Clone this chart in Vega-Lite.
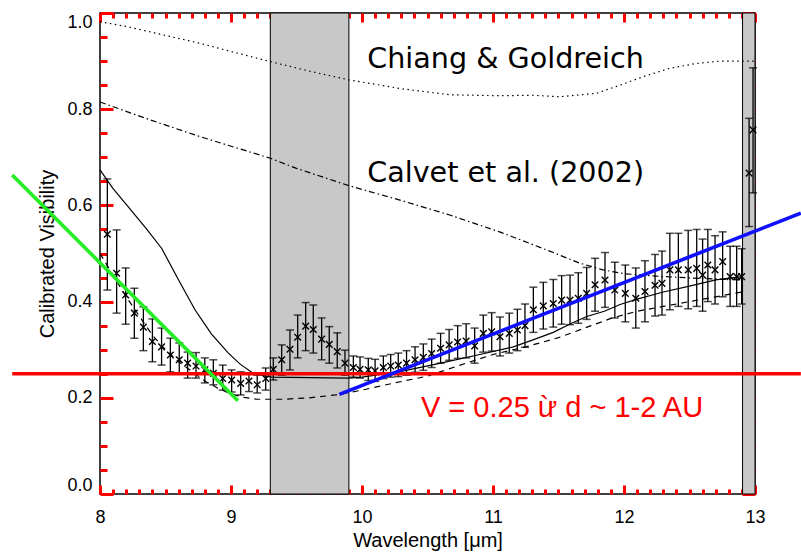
{
  "$schema": "https://vega.github.io/schema/vega-lite/v6.json",
  "width": 655,
  "height": 481,
  "autosize": {"type": "none"},
  "padding": {"left": 100, "top": 13, "right": 46, "bottom": 58},
  "background": "white",
  "config": {
    "view": {"stroke": "black", "strokeWidth": 1.5},
    "axis": {
      "grid": false,
      "domain": false,
      "tickOpacity": 1,
      "zindex": 1,
      "tickColor": "red",
      "tickWidth": 3,
      "labelColor": "black",
      "titleColor": "black",
      "labelFont": "Liberation Sans",
      "titleFont": "Liberation Sans",
      "labelFontSize": 18,
      "titleFontSize": 20,
      "titleFontWeight": "normal"
    }
  },
  "resolve": {"axis": {"x": "independent", "y": "independent"}},
  "datasets": {
    "bands": [
      {"x1": 9.3, "x2": 9.9},
      {"x1": 12.905, "x2": 13.0}
    ],
    "models": [
      {"model": "cg", "w": 8.0, "v": 0.982}, {"model": "cg", "w": 8.2, "v": 0.972}, {"model": "cg", "w": 8.38, "v": 0.961}, {"model": "cg", "w": 8.57, "v": 0.949}, {"model": "cg", "w": 8.763, "v": 0.937}, {"model": "cg", "w": 9.0, "v": 0.92}, {"model": "cg", "w": 9.3, "v": 0.899}, {"model": "cg", "w": 9.6, "v": 0.879}, {"model": "cg", "w": 9.9, "v": 0.861}, {"model": "cg", "w": 10.29, "v": 0.843}, {"model": "cg", "w": 10.67, "v": 0.83}, {"model": "cg", "w": 11.05, "v": 0.828}, {"model": "cg", "w": 11.3, "v": 0.829}, {"model": "cg", "w": 11.51, "v": 0.826}, {"model": "cg", "w": 11.79, "v": 0.833}, {"model": "cg", "w": 11.97, "v": 0.85}, {"model": "cg", "w": 12.15, "v": 0.868}, {"model": "cg", "w": 12.35, "v": 0.885}, {"model": "cg", "w": 12.55, "v": 0.895}, {"model": "cg", "w": 12.733, "v": 0.9}, {"model": "cg", "w": 13.0, "v": 0.9},
      {"model": "calvet", "w": 8.0, "v": 0.815}, {"model": "calvet", "w": 8.38, "v": 0.778}, {"model": "calvet", "w": 8.763, "v": 0.743}, {"model": "calvet", "w": 9.3, "v": 0.698}, {"model": "calvet", "w": 9.5, "v": 0.677}, {"model": "calvet", "w": 9.9, "v": 0.641}, {"model": "calvet", "w": 10.29, "v": 0.611}, {"model": "calvet", "w": 10.67, "v": 0.58}, {"model": "calvet", "w": 11.05, "v": 0.545}, {"model": "calvet", "w": 11.28, "v": 0.521}, {"model": "calvet", "w": 11.46, "v": 0.502}, {"model": "calvet", "w": 11.66, "v": 0.48}, {"model": "calvet", "w": 11.84, "v": 0.466}, {"model": "calvet", "w": 12.0, "v": 0.458}, {"model": "calvet", "w": 12.3, "v": 0.452}, {"model": "calvet", "w": 12.6, "v": 0.448}, {"model": "calvet", "w": 12.9, "v": 0.445},
      {"model": "solid", "w": 8.0, "v": 0.674}, {"model": "solid", "w": 8.1, "v": 0.635}, {"model": "solid", "w": 8.216, "v": 0.597}, {"model": "solid", "w": 8.35, "v": 0.553}, {"model": "solid", "w": 8.47, "v": 0.511}, {"model": "solid", "w": 8.6, "v": 0.445}, {"model": "solid", "w": 8.725, "v": 0.383}, {"model": "solid", "w": 8.85, "v": 0.333}, {"model": "solid", "w": 8.98, "v": 0.293}, {"model": "solid", "w": 9.07, "v": 0.27}, {"model": "solid", "w": 9.158, "v": 0.253}, {"model": "solid", "w": 9.25, "v": 0.246}, {"model": "solid", "w": 9.31, "v": 0.243}, {"model": "solid", "w": 9.6, "v": 0.242}, {"model": "solid", "w": 9.9, "v": 0.241}, {"model": "solid", "w": 10.0, "v": 0.243}, {"model": "solid", "w": 10.3, "v": 0.255}, {"model": "solid", "w": 10.6, "v": 0.272}, {"model": "solid", "w": 10.9, "v": 0.29}, {"model": "solid", "w": 11.155, "v": 0.306}, {"model": "solid", "w": 11.3, "v": 0.32}, {"model": "solid", "w": 11.46, "v": 0.336}, {"model": "solid", "w": 11.6, "v": 0.355}, {"model": "solid", "w": 11.715, "v": 0.369}, {"model": "solid", "w": 11.85, "v": 0.38}, {"model": "solid", "w": 11.97, "v": 0.394}, {"model": "solid", "w": 12.1, "v": 0.405}, {"model": "solid", "w": 12.3, "v": 0.42}, {"model": "solid", "w": 12.5, "v": 0.432}, {"model": "solid", "w": 12.7, "v": 0.445}, {"model": "solid", "w": 12.9, "v": 0.452},
      {"model": "dashed", "w": 8.0, "v": 0.5}, {"model": "dashed", "w": 8.1, "v": 0.455}, {"model": "dashed", "w": 8.2, "v": 0.41}, {"model": "dashed", "w": 8.3, "v": 0.37}, {"model": "dashed", "w": 8.4, "v": 0.33}, {"model": "dashed", "w": 8.5, "v": 0.3}, {"model": "dashed", "w": 8.6, "v": 0.275}, {"model": "dashed", "w": 8.7, "v": 0.255}, {"model": "dashed", "w": 8.8, "v": 0.235}, {"model": "dashed", "w": 8.9, "v": 0.22}, {"model": "dashed", "w": 9.0, "v": 0.208}, {"model": "dashed", "w": 9.1, "v": 0.201}, {"model": "dashed", "w": 9.2, "v": 0.197}, {"model": "dashed", "w": 9.4, "v": 0.197}, {"model": "dashed", "w": 9.6, "v": 0.2}, {"model": "dashed", "w": 9.8, "v": 0.206}, {"model": "dashed", "w": 10.0, "v": 0.216}, {"model": "dashed", "w": 10.25, "v": 0.231}, {"model": "dashed", "w": 10.5, "v": 0.245}, {"model": "dashed", "w": 10.75, "v": 0.268}, {"model": "dashed", "w": 11.0, "v": 0.29}, {"model": "dashed", "w": 11.25, "v": 0.306}, {"model": "dashed", "w": 11.5, "v": 0.325}, {"model": "dashed", "w": 11.75, "v": 0.35}, {"model": "dashed", "w": 11.9, "v": 0.365}, {"model": "dashed", "w": 12.1, "v": 0.38}, {"model": "dashed", "w": 12.3, "v": 0.39}, {"model": "dashed", "w": 12.5, "v": 0.4}, {"model": "dashed", "w": 12.7, "v": 0.41}, {"model": "dashed", "w": 12.9, "v": 0.42}
    ],
    "points": [
      {"w": 8.056, "v": 0.54, "lo": 0.424, "hi": 0.655},
      {"w": 8.127, "v": 0.459, "lo": 0.376, "hi": 0.549},
      {"w": 8.196, "v": 0.414, "lo": 0.353, "hi": 0.47},
      {"w": 8.262, "v": 0.376, "lo": 0.324, "hi": 0.428},
      {"w": 8.331, "v": 0.347, "lo": 0.298, "hi": 0.389},
      {"w": 8.4, "v": 0.317, "lo": 0.275, "hi": 0.364},
      {"w": 8.47, "v": 0.306, "lo": 0.268, "hi": 0.345},
      {"w": 8.537, "v": 0.289, "lo": 0.254, "hi": 0.324},
      {"w": 8.605, "v": 0.279, "lo": 0.251, "hi": 0.314},
      {"w": 8.669, "v": 0.272, "lo": 0.241, "hi": 0.295},
      {"w": 8.733, "v": 0.266, "lo": 0.241, "hi": 0.294},
      {"w": 8.8, "v": 0.258, "lo": 0.231, "hi": 0.283},
      {"w": 8.865, "v": 0.251, "lo": 0.227, "hi": 0.279},
      {"w": 8.937, "v": 0.24, "lo": 0.216, "hi": 0.268},
      {"w": 9.005, "v": 0.237, "lo": 0.212, "hi": 0.258},
      {"w": 9.074, "v": 0.23, "lo": 0.206, "hi": 0.254},
      {"w": 9.137, "v": 0.235, "lo": 0.213, "hi": 0.252},
      {"w": 9.2, "v": 0.227, "lo": 0.21, "hi": 0.247},
      {"w": 9.265, "v": 0.24, "lo": 0.216, "hi": 0.262},
      {"w": 9.323, "v": 0.259, "lo": 0.237, "hi": 0.283},
      {"w": 9.387, "v": 0.279, "lo": 0.247, "hi": 0.31},
      {"w": 9.45, "v": 0.301, "lo": 0.258, "hi": 0.341},
      {"w": 9.509, "v": 0.326, "lo": 0.283, "hi": 0.372},
      {"w": 9.57, "v": 0.349, "lo": 0.298, "hi": 0.398},
      {"w": 9.628, "v": 0.342, "lo": 0.293, "hi": 0.393},
      {"w": 9.692, "v": 0.322, "lo": 0.279, "hi": 0.366},
      {"w": 9.75, "v": 0.311, "lo": 0.272, "hi": 0.348},
      {"w": 9.811, "v": 0.296, "lo": 0.262, "hi": 0.335},
      {"w": 9.87, "v": 0.272, "lo": 0.247, "hi": 0.299},
      {"w": 9.934, "v": 0.263, "lo": 0.243, "hi": 0.287},
      {"w": 9.985, "v": 0.259, "lo": 0.241, "hi": 0.285},
      {"w": 10.048, "v": 0.258, "lo": 0.236, "hi": 0.282},
      {"w": 10.1, "v": 0.256, "lo": 0.234, "hi": 0.28},
      {"w": 10.163, "v": 0.263, "lo": 0.24, "hi": 0.287},
      {"w": 10.219, "v": 0.266, "lo": 0.243, "hi": 0.29},
      {"w": 10.277, "v": 0.268, "lo": 0.244, "hi": 0.293},
      {"w": 10.34, "v": 0.272, "lo": 0.247, "hi": 0.298},
      {"w": 10.405, "v": 0.279, "lo": 0.253, "hi": 0.306},
      {"w": 10.468, "v": 0.284, "lo": 0.257, "hi": 0.312},
      {"w": 10.532, "v": 0.292, "lo": 0.263, "hi": 0.322},
      {"w": 10.6, "v": 0.303, "lo": 0.272, "hi": 0.334},
      {"w": 10.665, "v": 0.31, "lo": 0.278, "hi": 0.342},
      {"w": 10.73, "v": 0.316, "lo": 0.282, "hi": 0.35},
      {"w": 10.795, "v": 0.318, "lo": 0.283, "hi": 0.354},
      {"w": 10.86, "v": 0.308, "lo": 0.272, "hi": 0.345},
      {"w": 10.926, "v": 0.334, "lo": 0.295, "hi": 0.372},
      {"w": 10.99, "v": 0.337, "lo": 0.297, "hi": 0.377},
      {"w": 11.053, "v": 0.327, "lo": 0.287, "hi": 0.368},
      {"w": 11.124, "v": 0.334, "lo": 0.293, "hi": 0.376},
      {"w": 11.186, "v": 0.341, "lo": 0.298, "hi": 0.384},
      {"w": 11.244, "v": 0.35, "lo": 0.305, "hi": 0.395},
      {"w": 11.308, "v": 0.383, "lo": 0.336, "hi": 0.43},
      {"w": 11.384, "v": 0.391, "lo": 0.343, "hi": 0.44},
      {"w": 11.46, "v": 0.396, "lo": 0.347, "hi": 0.446},
      {"w": 11.524, "v": 0.403, "lo": 0.353, "hi": 0.454},
      {"w": 11.588, "v": 0.403, "lo": 0.352, "hi": 0.455},
      {"w": 11.651, "v": 0.407, "lo": 0.355, "hi": 0.46},
      {"w": 11.715, "v": 0.417, "lo": 0.363, "hi": 0.471},
      {"w": 11.779, "v": 0.435, "lo": 0.38, "hi": 0.49},
      {"w": 11.855, "v": 0.445, "lo": 0.388, "hi": 0.502},
      {"w": 11.93, "v": 0.424, "lo": 0.366, "hi": 0.482},
      {"w": 12.01, "v": 0.417, "lo": 0.358, "hi": 0.476},
      {"w": 12.09, "v": 0.407, "lo": 0.345, "hi": 0.47},
      {"w": 12.16, "v": 0.421, "lo": 0.358, "hi": 0.485},
      {"w": 12.237, "v": 0.434, "lo": 0.37, "hi": 0.498},
      {"w": 12.29, "v": 0.438, "lo": 0.372, "hi": 0.505},
      {"w": 12.35, "v": 0.466, "lo": 0.383, "hi": 0.542},
      {"w": 12.415, "v": 0.466, "lo": 0.39, "hi": 0.542},
      {"w": 12.49, "v": 0.466, "lo": 0.385, "hi": 0.548},
      {"w": 12.555, "v": 0.469, "lo": 0.39, "hi": 0.55},
      {"w": 12.6, "v": 0.455, "lo": 0.38, "hi": 0.53},
      {"w": 12.64, "v": 0.476, "lo": 0.4, "hi": 0.55},
      {"w": 12.695, "v": 0.466, "lo": 0.395, "hi": 0.537},
      {"w": 12.753, "v": 0.483, "lo": 0.41, "hi": 0.545},
      {"w": 12.81, "v": 0.452, "lo": 0.39, "hi": 0.515},
      {"w": 12.86, "v": 0.452, "lo": 0.39, "hi": 0.515},
      {"w": 12.898, "v": 0.452, "lo": 0.395, "hi": 0.51},
      {"w": 12.955, "v": 0.667, "lo": 0.556, "hi": 0.781},
      {"w": 12.985, "v": 0.757, "lo": 0.626, "hi": 0.886}
    ],
    "fits": [
      {"fit": "level", "w": 7.33, "v": 0.25}, {"fit": "level", "w": 13.35, "v": 0.25},
      {"fit": "short", "w": 7.33, "v": 0.663}, {"fit": "short", "w": 9.053, "v": 0.194},
      {"fit": "long", "w": 9.827, "v": 0.207}, {"fit": "long", "w": 13.35, "v": 0.584}
    ],
    "labels": [
      {"kind": "model", "w": 10.04, "v": 0.885, "text": "Chiang & Goldreich"},
      {"kind": "model", "w": 10.04, "v": 0.649, "text": "Calvet et al. (2002)"},
      {"kind": "fit", "w": 10.45, "v": 0.161, "text": "V = 0.25 ừ d ~ 1-2 AU"}
    ]
  },
  "layer": [
    {
      "data": {"name": "bands"},
      "mark": {"type": "rect", "fill": "#c8c8c8", "stroke": "black", "strokeWidth": 1},
      "encoding": {
        "x": {"field": "x1", "type": "quantitative", "scale": {"domain": [8, 13], "nice": false, "zero": false}, "axis": null},
        "x2": {"field": "x2"},
        "y": {"datum": 0, "type": "quantitative", "scale": {"domain": [0, 1], "nice": false}, "axis": null},
        "y2": {"datum": 1}
      }
    },
    {
      "data": {"name": "models"},
      "transform": [{"filter": "datum.model === 'cg'"}],
      "mark": {"type": "line", "color": "black", "strokeWidth": 1.2, "strokeDash": [1.5, 3.5]},
      "encoding": {
        "x": {"field": "w", "type": "quantitative", "scale": {"domain": [8, 13], "nice": false, "zero": false},
          "axis": {"orient": "bottom", "offset": -9, "values": [8,8.1,8.2,8.3,8.4,8.5,8.6,8.7,8.8,8.9,9,9.1,9.2,9.3,9.4,9.5,9.6,9.7,9.8,9.9,10,10.1,10.2,10.3,10.4,10.5,10.6,10.7,10.8,10.9,11,11.1,11.2,11.3,11.4,11.5,11.6,11.7,11.8,11.9,12,12.1,12.2,12.3,12.4,12.5,12.6,12.7,12.8,12.9,13],
            "title": "Wavelength [μm]", "labelExpr": "abs(datum.value-round(datum.value))<0.001 ? format(datum.value,'d') : ''",
            "tickSize": 9,
            "tickDash": {"condition": {"test": "abs(datum.value-round(datum.value))<0.001", "value": [9, 0]}, "value": [0, 4, 5, 0]},
            "labelPadding": 14, "labelFlush": false, "titlePadding": 4}},
        "y": {"field": "v", "type": "quantitative", "scale": {"domain": [0, 1], "nice": false},
          "axis": {"orient": "left", "offset": -13, "values": [0,0.05,0.1,0.15,0.2,0.25,0.3,0.35,0.4,0.45,0.5,0.55,0.6,0.65,0.7,0.75,0.8,0.85,0.9,0.95,1],
            "title": "Calibrated Visibility", "labelExpr": "abs(datum.value*5-round(datum.value*5))<0.001 ? format(datum.value,'.1f') : ''",
            "tickSize": 13,
            "tickDash": {"condition": {"test": "abs(datum.value*5-round(datum.value*5))<0.001", "value": [13, 0]}, "value": [0, 6, 7, 0]},
            "labelPadding": 8, "labelFlush": true, "titlePadding": 9}}
      }
    },
    {
      "data": {"name": "models"},
      "transform": [{"filter": "datum.model === 'calvet'"}],
      "mark": {"type": "line", "color": "black", "strokeWidth": 1.2, "strokeDash": [6, 3, 1.5, 3]},
      "encoding": {
        "x": {"field": "w", "type": "quantitative", "scale": {"domain": [8, 13], "nice": false, "zero": false},
          "axis": {"orient": "top", "offset": -9, "values": [8,8.1,8.2,8.3,8.4,8.5,8.6,8.7,8.8,8.9,9,9.1,9.2,9.3,9.4,9.5,9.6,9.7,9.8,9.9,10,10.1,10.2,10.3,10.4,10.5,10.6,10.7,10.8,10.9,11,11.1,11.2,11.3,11.4,11.5,11.6,11.7,11.8,11.9,12,12.1,12.2,12.3,12.4,12.5,12.6,12.7,12.8,12.9,13],
            "title": null, "labels": false,
            "tickSize": 9,
            "tickDash": {"condition": {"test": "abs(datum.value-round(datum.value))<0.001", "value": [9, 0]}, "value": [0, 4, 5, 0]}}},
        "y": {"field": "v", "type": "quantitative", "scale": {"domain": [0, 1], "nice": false},
          "axis": {"orient": "right", "offset": -13, "values": [0,0.05,0.1,0.15,0.2,0.25,0.3,0.35,0.4,0.45,0.5,0.55,0.6,0.65,0.7,0.75,0.8,0.85,0.9,0.95,1],
            "title": null, "labels": false,
            "tickSize": 13,
            "tickDash": {"condition": {"test": "abs(datum.value*5-round(datum.value*5))<0.001", "value": [13, 0]}, "value": [0, 6, 7, 0]}}}
      }
    },
    {
      "data": {"name": "models"},
      "transform": [{"filter": "datum.model === 'solid'"}],
      "mark": {"type": "line", "color": "black", "strokeWidth": 1.2},
      "encoding": {
        "x": {"field": "w", "type": "quantitative", "scale": {"domain": [8, 13], "nice": false, "zero": false}, "axis": null},
        "y": {"field": "v", "type": "quantitative", "scale": {"domain": [0, 1], "nice": false}, "axis": null}
      }
    },
    {
      "data": {"name": "models"},
      "transform": [{"filter": "datum.model === 'dashed'"}],
      "mark": {"type": "line", "color": "black", "strokeWidth": 1.2, "strokeDash": [6, 5]},
      "encoding": {
        "x": {"field": "w", "type": "quantitative", "scale": {"domain": [8, 13], "nice": false, "zero": false}, "axis": null},
        "y": {"field": "v", "type": "quantitative", "scale": {"domain": [0, 1], "nice": false}, "axis": null}
      }
    },
    {
      "data": {"name": "points"},
      "mark": {"type": "rule", "color": "black", "strokeWidth": 1.3},
      "encoding": {
        "x": {"field": "w", "type": "quantitative", "scale": {"domain": [8, 13], "nice": false, "zero": false}, "axis": null},
        "y": {"field": "lo", "type": "quantitative", "scale": {"domain": [0, 1], "nice": false}, "axis": null},
        "y2": {"field": "hi"}
      }
    },
    {
      "data": {"name": "points"},
      "mark": {"type": "tick", "color": "black", "orient": "horizontal", "size": 8, "thickness": 1.5},
      "encoding": {
        "x": {"field": "w", "type": "quantitative", "scale": {"domain": [8, 13], "nice": false, "zero": false}, "axis": null},
        "y": {"field": "lo", "type": "quantitative", "scale": {"domain": [0, 1], "nice": false}, "axis": null}
      }
    },
    {
      "data": {"name": "points"},
      "mark": {"type": "tick", "color": "black", "orient": "horizontal", "size": 8, "thickness": 1.5},
      "encoding": {
        "x": {"field": "w", "type": "quantitative", "scale": {"domain": [8, 13], "nice": false, "zero": false}, "axis": null},
        "y": {"field": "hi", "type": "quantitative", "scale": {"domain": [0, 1], "nice": false}, "axis": null}
      }
    },
    {
      "data": {"name": "points"},
      "mark": {"type": "point", "shape": "M-1,-1L1,1M-1,1L1,-1", "filled": false, "stroke": "black", "strokeWidth": 1.4, "size": 44, "opacity": 1},
      "encoding": {
        "x": {"field": "w", "type": "quantitative", "scale": {"domain": [8, 13], "nice": false, "zero": false}, "axis": null},
        "y": {"field": "v", "type": "quantitative", "scale": {"domain": [0, 1], "nice": false}, "axis": null}
      }
    },
    {
      "data": {"name": "fits"},
      "mark": {"type": "line", "strokeWidth": 3.6, "clip": false},
      "encoding": {
        "x": {"field": "w", "type": "quantitative", "scale": {"domain": [8, 13], "nice": false, "zero": false}, "axis": null},
        "y": {"field": "v", "type": "quantitative", "scale": {"domain": [0, 1], "nice": false}, "axis": null},
        "color": {"field": "fit", "type": "nominal", "scale": {"domain": ["level", "short", "long"], "range": ["#ff0000", "#22ee22", "#1010ff"]}, "legend": null},
        "order": {"field": "w", "type": "quantitative"}
      }
    },
    {
      "data": {"name": "labels"},
      "transform": [{"filter": "datum.kind === 'model'"}],
      "mark": {"type": "text", "font": "DejaVu Sans", "fontSize": 28.6, "color": "black", "align": "left", "baseline": "alphabetic"},
      "encoding": {
        "x": {"field": "w", "type": "quantitative", "scale": {"domain": [8, 13], "nice": false, "zero": false}, "axis": null},
        "y": {"field": "v", "type": "quantitative", "scale": {"domain": [0, 1], "nice": false}, "axis": null},
        "text": {"field": "text"}
      }
    },
    {
      "data": {"name": "labels"},
      "transform": [{"filter": "datum.kind === 'fit'"}],
      "mark": {"type": "text", "font": "Liberation Sans", "fontSize": 29, "color": "#ff0000", "align": "left", "baseline": "alphabetic"},
      "encoding": {
        "x": {"field": "w", "type": "quantitative", "scale": {"domain": [8, 13], "nice": false, "zero": false}, "axis": null},
        "y": {"field": "v", "type": "quantitative", "scale": {"domain": [0, 1], "nice": false}, "axis": null},
        "text": {"field": "text"}
      }
    }
  ]
}
